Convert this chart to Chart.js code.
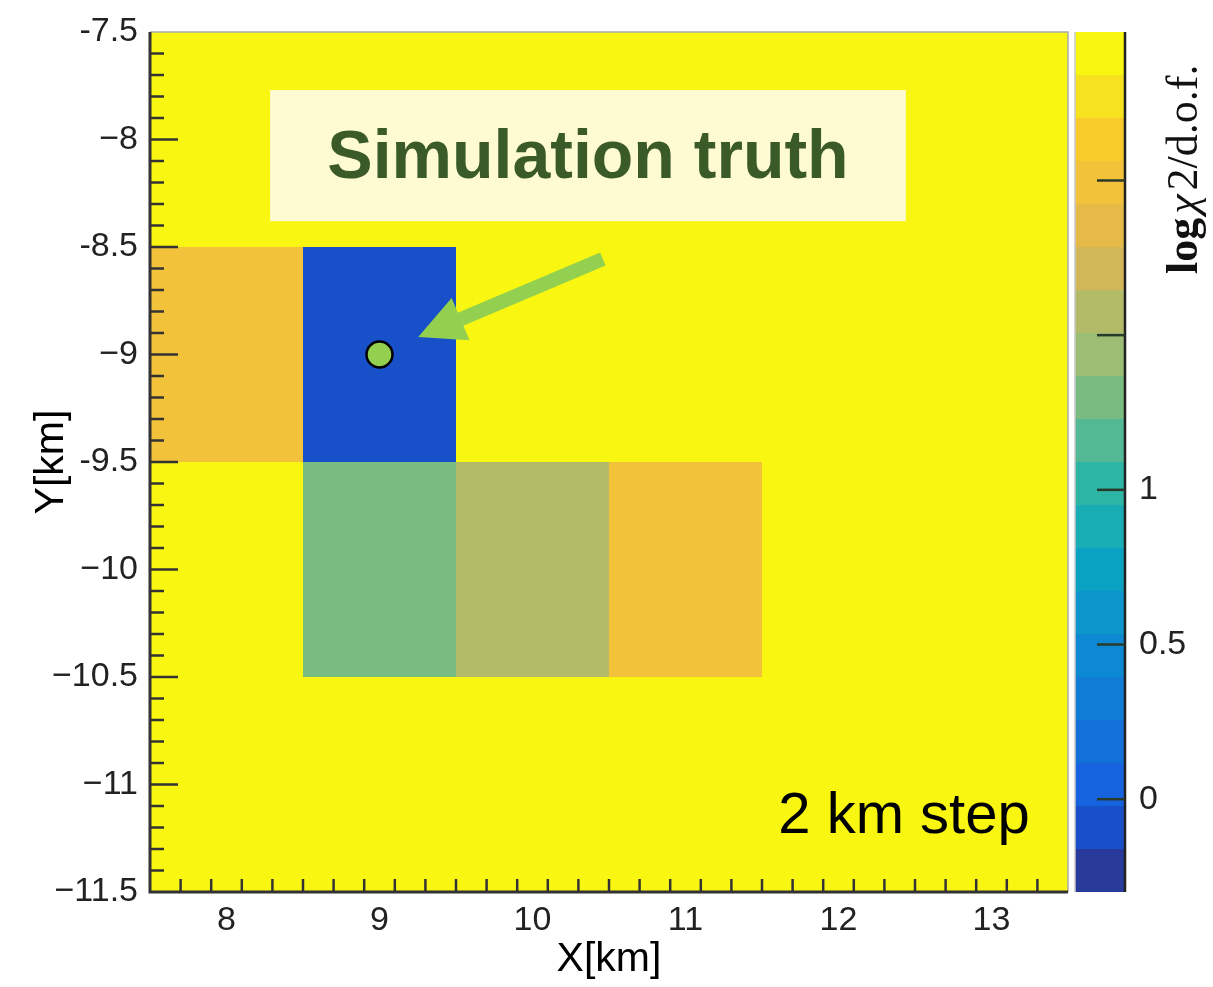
<!DOCTYPE html>
<html>
<head>
<meta charset="utf-8">
<script src="https://cdn.jsdelivr.net/npm/chart.js@4.4.1/dist/chart.umd.min.js"></script>
<style>
  body { margin: 0; background: #fff; }
</style>
</head>
<body>
<canvas id="chartId" width="1213" height="987"></canvas>
<script>
// grid of fit results, 1 km cells
const xCenters = [8, 9, 10, 11, 12, 13];
const yCenters = [-8, -9, -10, -11];
const chi2Rows = [
    [2.45, 2.45, 2.45, 2.45, 2.45, 2.45],
    [2.0, -0.1, 2.45, 2.45, 2.45, 2.45],
    [2.45, 1.3, 1.58, 2.0, 2.45, 2.45],
    [2.45, 2.45, 2.45, 2.45, 2.45, 2.45]
];
const truthX = [9];
const truthY = [-9];

const xTicks = [8, 9, 10, 11, 12, 13];
const xTickLabels = ['8', '9', '10', '11', '12', '13'];
const yTicks = [-11.5, -11, -10.5, -10, -9.5, -9, -8.5, -8, -7.5];
const yTickLabels = ['−11.5', '−11', '−10.5', '−10', '-9.5', '−9', '-8.5', '−8', '-7.5'];
const zTicks = [0, 0.5, 1, 1.5, 2];
const zTickLabels = ['0', '0.5', '1', '', ''];
const zMin = -0.3;
const zMax = 2.48;

// bird palette, 20 contour bands, bottom to top
const bandColors = ['#283a9a', '#1750c8', '#1563de', '#1270da', '#107cd6', '#0c89d2', '#0b97cb',
    '#0aa2c2', '#18acb5', '#2cb4a5', '#52b994', '#78bc82', '#9bbe74', '#b4bb68', '#d1b758',
    '#e6ba47', '#f2c23a', '#f8ca2a', '#f6e21f', '#f9f712'];

function colorFor(v) {
    var dz = (zMax - zMin) / bandColors.length;
    var k = Math.floor((v - zMin) / dz);
    k = Math.max(0, Math.min(bandColors.length - 1, k));
    return bandColors[k];
}

const tickFont = { family: 'Liberation Sans, Arial, sans-serif', size: 34 };
const titleFont = { family: 'Liberation Sans, Arial, sans-serif', size: 41 };

function noPad(s) {
    s.paddingTop = 0;
    s.paddingBottom = 0;
    s.paddingLeft = 0;
    s.paddingRight = 0;
}

const heatmapPlugin = {
    id: 'heatmap',
    beforeDatasetsDraw(chart) {
        const ctx = chart.ctx;
        const x = chart.scales.x, y = chart.scales.y, z = chart.scales.z;
        ctx.save();
        yCenters.forEach(function(yc, i) {
            xCenters.forEach(function(xc, j) {
                var x0 = Math.round(x.getPixelForValue(xc - 0.5));
                var x1 = Math.round(x.getPixelForValue(xc + 0.5));
                var y0 = Math.round(y.getPixelForValue(yc + 0.5));
                var y1 = Math.round(y.getPixelForValue(yc - 0.5));
                ctx.fillStyle = colorFor(chi2Rows[i][j]);
                ctx.fillRect(x0, y0, x1 - x0, y1 - y0);
            });
        });

        // colour bar
        var dz = (zMax - zMin) / bandColors.length;
        var cbLeft = z.left + 7, cbRight = z.left + 57;
        bandColors.forEach(function(c, k) {
            var top = Math.round(z.getPixelForValue(zMin + (k + 1) * dz));
            var bot = Math.round(z.getPixelForValue(zMin + k * dz));
            ctx.fillStyle = c;
            ctx.fillRect(cbLeft, top, cbRight - cbLeft, bot - top);
        });
        ctx.strokeStyle = '#c8c8c8';
        ctx.lineWidth = 1.5;
        ctx.beginPath();
        ctx.moveTo(cbLeft, z.top);
        ctx.lineTo(cbLeft, z.bottom);
        ctx.stroke();
        ctx.strokeStyle = '#222';
        ctx.lineWidth = 2.5;
        ctx.beginPath();
        ctx.moveTo(cbRight, z.top);
        ctx.lineTo(cbRight, z.bottom);
        ctx.stroke();
        ctx.lineWidth = 2.5;
        ctx.strokeStyle = '#2a3a2a';
        zTicks.forEach(function(v) {
            var p = z.getPixelForValue(v);
            ctx.beginPath();
            ctx.moveTo(cbRight - 28, p);
            ctx.lineTo(cbRight, p);
            ctx.stroke();
        });

        // colour bar title, bottom to top
        ctx.translate(z.left + 129, 274);
        ctx.rotate(-Math.PI / 2);
        ctx.fillStyle = '#111';
        ctx.textBaseline = 'alphabetic';
        ctx.textAlign = 'left';
        var pos = 0;
        [['bold 44px "Liberation Serif", serif', 'log'],
         ['italic 44px "Liberation Serif", serif', 'χ'],
         ['44px "Liberation Serif", serif', '2/d.o.f.']].forEach(function(part) {
            ctx.font = part[0];
            ctx.fillText(part[1], pos, 0);
            pos += ctx.measureText(part[1]).width + 4;
        });
        ctx.restore();
    },
    afterDatasetsDraw(chart) {
        const ctx = chart.ctx;
        const x = chart.scales.x, y = chart.scales.y;
        const area = chart.chartArea;
        ctx.save();

        // frame
        ctx.strokeStyle = '#aaa';
        ctx.lineWidth = 1.5;
        ctx.beginPath();
        ctx.moveTo(area.left, area.top);
        ctx.lineTo(area.right, area.top);
        ctx.lineTo(area.right, area.bottom);
        ctx.stroke();

        // ticks inside the frame
        ctx.strokeStyle = '#333';
        ctx.lineWidth = 2.5;
        for (var i = 1; i < 30; i++) {
            var xv = 7.5 + i * 0.2;
            var px = x.getPixelForValue(xv);
            var major = Math.abs(xv - Math.round(xv)) < 1e-6;
            ctx.beginPath();
            ctx.moveTo(px, area.bottom);
            ctx.lineTo(px, area.bottom - (major ? 25 : 13));
            ctx.stroke();
        }
        for (var j = 1; j < 40; j++) {
            var yv = -11.5 + j * 0.1;
            var py = y.getPixelForValue(yv);
            var ymaj = Math.abs(yv * 2 - Math.round(yv * 2)) < 1e-6;
            ctx.beginPath();
            ctx.moveTo(area.left, py);
            ctx.lineTo(area.left + (ymaj ? 28 : 14), py);
            ctx.stroke();
        }
        ctx.strokeStyle = '#333';
        ctx.lineWidth = 3;
        ctx.beginPath();
        ctx.moveTo(area.left, area.top);
        ctx.lineTo(area.left, area.bottom);
        ctx.lineTo(area.right, area.bottom);
        ctx.stroke();

        // label box
        var bx0 = x.getPixelForValue(8.285), bx1 = x.getPixelForValue(12.44);
        var by0 = y.getPixelForValue(-7.77), by1 = y.getPixelForValue(-8.38);
        ctx.fillStyle = '#fefbd2';
        ctx.fillRect(bx0, by0, bx1 - bx0, by1 - by0);
        ctx.fillStyle = '#3a5a27';
        ctx.font = 'bold 68px "Liberation Sans", Arial, sans-serif';
        ctx.textAlign = 'center';
        ctx.textBaseline = 'alphabetic';
        ctx.fillText('Simulation truth', (bx0 + bx1) / 2, by0 + 88);

        // arrow to the true position
        var ax0 = x.getPixelForValue(10.46), ay0 = y.getPixelForValue(-8.556);
        var ax1 = x.getPixelForValue(9.253), ay1 = y.getPixelForValue(-8.919);
        var len = Math.hypot(ax1 - ax0, ay1 - ay0);
        var ux = (ax1 - ax0) / len, uy = (ay1 - ay0) / len;
        var headLen = 46, headHalf = 23;
        var bxm = ax1 - ux * headLen, bym = ay1 - uy * headLen;
        ctx.strokeStyle = '#93d04f';
        ctx.fillStyle = '#93d04f';
        ctx.lineWidth = 14;
        ctx.beginPath();
        ctx.moveTo(ax0, ay0);
        ctx.lineTo(bxm + ux * 2, bym + uy * 2);
        ctx.stroke();
        ctx.beginPath();
        ctx.moveTo(ax1, ay1);
        ctx.lineTo(bxm - uy * headHalf, bym + ux * headHalf);
        ctx.lineTo(bxm + uy * headHalf, bym - ux * headHalf);
        ctx.closePath();
        ctx.fill();

        // step note
        ctx.fillStyle = '#000';
        ctx.font = '58px "Liberation Sans", Arial, sans-serif';
        ctx.textAlign = 'right';
        ctx.fillText('2 km step', x.getPixelForValue(13.25), y.getPixelForValue(-11.226));
        ctx.restore();
    }
};

var chrt = document.getElementById('chartId').getContext('2d');
var chartId = new Chart(chrt, {
    type: 'scatter',
    data: {
        datasets: [{
            data: truthX.map(function(v, i) { return { x: v, y: truthY[i] }; }),
            pointRadius: 13,
            backgroundColor: '#93d04f',
            borderColor: '#000',
            borderWidth: 2.5
        }]
    },
    options: {
        responsive: false,
        animation: false,
        events: [],
        layout: { padding: { left: 0, top: 32, right: 0, bottom: 0 } },
        plugins: { legend: { display: false }, tooltip: { enabled: false } },
        scales: {
            x: {
                type: 'linear',
                min: 7.5,
                max: 13.5,
                afterBuildTicks: function(s) { s.ticks = xTicks.map(function(v) { return { value: v }; }); },
                afterFit: function(s) { s.height = 95; noPad(s); },
                grid: { display: false },
                border: { display: false },
                ticks: {
                    autoSkip: false, maxRotation: 0, padding: 0,
                    font: tickFont, color: '#222',
                    callback: function(v, i) { return xTickLabels[i]; }
                },
                title: { display: true, text: 'X[km]', font: titleFont, color: '#000', padding: { top: 0, bottom: 3 } }
            },
            y: {
                type: 'linear',
                min: -11.5,
                max: -7.5,
                afterBuildTicks: function(s) { s.ticks = yTicks.map(function(v) { return { value: v }; }); },
                afterFit: function(s) { s.width = 150; noPad(s); },
                grid: { display: false },
                border: { display: false },
                ticks: {
                    autoSkip: false, padding: 4,
                    font: tickFont, color: '#222',
                    callback: function(v, i) { return yTickLabels[i]; }
                },
                title: { display: true, text: 'Y[km]', font: titleFont, color: '#000', padding: { top: 27, bottom: 0 } }
            },
            z: {
                type: 'linear',
                axis: 'y',
                position: 'right',
                min: zMin,
                max: zMax,
                afterBuildTicks: function(s) { s.ticks = zTicks.map(function(v) { return { value: v }; }); },
                afterFit: function(s) { s.width = 145; noPad(s); },
                grid: { display: false },
                border: { display: false },
                ticks: {
                    autoSkip: false, padding: 63,
                    font: tickFont, color: '#222',
                    callback: function(v, i) { return zTickLabels[i]; }
                }
            }
        }
    },
    plugins: [heatmapPlugin]
});
</script>
</body>
</html>
